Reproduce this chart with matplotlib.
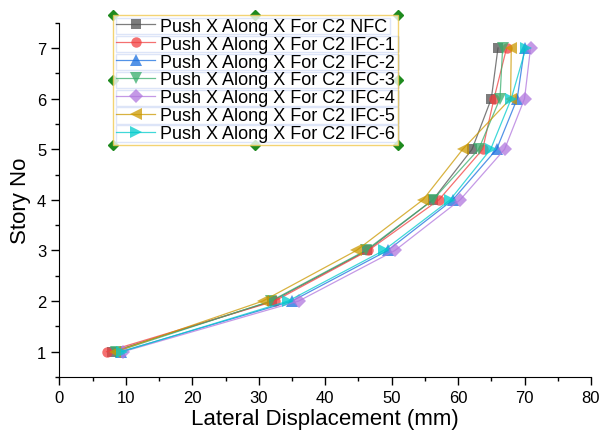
import matplotlib
matplotlib.use('Agg')
import matplotlib.pyplot as plt
from matplotlib.lines import Line2D
from matplotlib.patches import Rectangle
from matplotlib.ticker import MultipleLocator

plt.rcParams['font.family'] = ['Liberation Sans', 'DejaVu Sans']

# Этажи
stories = [1, 2, 3, 4, 5, 6, 7]

# Перемещения (мм) по каждому варианту
nfc = [7.9, 32.0, 46.3, 56.2, 62.1, 65.0, 66.0]
ifc1 = [7.1, 32.4, 46.5, 57.1, 63.7, 65.4, 67.3]
ifc2 = [9.2, 35.0, 49.4, 59.2, 65.8, 68.9, 70.0]
ifc3 = [8.5, 31.8, 46.1, 56.2, 63.1, 66.3, 66.7]
ifc4 = [9.6, 36.0, 50.5, 60.3, 67.0, 70.0, 70.9]
ifc5 = [8.4, 30.6, 44.7, 54.7, 60.7, 67.9, 68.0]
ifc6 = [9.4, 34.4, 48.8, 58.8, 64.9, 68.0, 70.2]

labels = ['Push X Along X For C2 NFC', 'Push X Along X For C2 IFC-1',
          'Push X Along X For C2 IFC-2', 'Push X Along X For C2 IFC-3',
          'Push X Along X For C2 IFC-4', 'Push X Along X For C2 IFC-5',
          'Push X Along X For C2 IFC-6']
series = [nfc, ifc1, ifc2, ifc3, ifc4, ifc5, ifc6]
colors = ['#515151', '#F14040', '#1A6FDF', '#37AD6B', '#B177DE', '#CC9900', '#00CBCC']
markers = ['s', 'o', '^', 'v', 'D', '<', '>']
msizes = [7.5, 7.5, 8.5, 8.5, 7, 8.5, 8.5]

fig = plt.figure(figsize=(6, 4.35), dpi=100)
ax = fig.add_axes([0.099, 0.131, 0.886, 0.8145])

for vals, lab, c, m, ms in zip(series, labels, colors, markers, msizes):
    ax.plot(vals, stories, color=c, linewidth=0.9, alpha=0.75, marker=m,
            markersize=ms, markeredgewidth=0, markerfacecolor=c, label=lab)

ax.set_xlim(0, 80)
ax.set_ylim(0.5, 7.5)
ax.xaxis.set_major_locator(MultipleLocator(10))
ax.xaxis.set_minor_locator(MultipleLocator(5))
ax.yaxis.set_major_locator(MultipleLocator(1))
ax.yaxis.set_minor_locator(MultipleLocator(0.5))
ax.tick_params(which='major', length=6, width=1, labelsize=12)
ax.tick_params(which='minor', length=3, width=1)
ax.spines['top'].set_visible(False)
ax.spines['right'].set_visible(False)
ax.set_xlabel('Lateral Displacement (mm)', fontsize=16, labelpad=2)
ax.set_ylabel('Story No', fontsize=16, labelpad=4)

leg = fig.legend(loc='upper left', bbox_to_anchor=(113 / 600, 1 - 16 / 435),
                 fontsize=13, frameon=True, fancybox=False, labelspacing=0.05,
                 handlelength=2.2, handletextpad=0.25, borderpad=0.15,
                 borderaxespad=0)
leg.get_frame().set_edgecolor('#F0C850')
leg.get_frame().set_linewidth(1.0)

# Рамки вокруг записей легенды и маркеры выделения
fig.canvas.draw()
inv = fig.transFigure.inverted()
lb = leg.get_window_extent()
h = lb.height / 7.0
for t in leg.get_texts():
    tb = t.get_window_extent()
    x0 = lb.x0 + 3
    x1 = min(tb.x1 + 3, lb.x1 + 1)
    yc = tb.y0 + tb.height / 2
    (fx0, fy0) = inv.transform((x0, yc - h / 2 + 1))
    (fx1, fy1) = inv.transform((x1, yc + h / 2 - 1))
    fig.add_artist(Rectangle((fx0, fy0), fx1 - fx0, fy1 - fy0, fill=False,
                             edgecolor='#5B7FE0', linewidth=1.0,
                             transform=fig.transFigure))
(lx0, ly0) = inv.transform((lb.x0, lb.y0))
(lx1, ly1) = inv.transform((lb.x1, lb.y1))
hx = [lx0, (lx0 + lx1) / 2, lx1, lx0, lx1, lx0, (lx0 + lx1) / 2, lx1]
hy = [ly1, ly1, ly1, (ly0 + ly1) / 2, (ly0 + ly1) / 2, ly0, ly0, ly0]
fig.add_artist(Line2D(hx, hy, linestyle='none', marker='D', markersize=5,
                      color='#1E8A1E', transform=fig.transFigure))

plt.savefig('out.png', dpi=100)
